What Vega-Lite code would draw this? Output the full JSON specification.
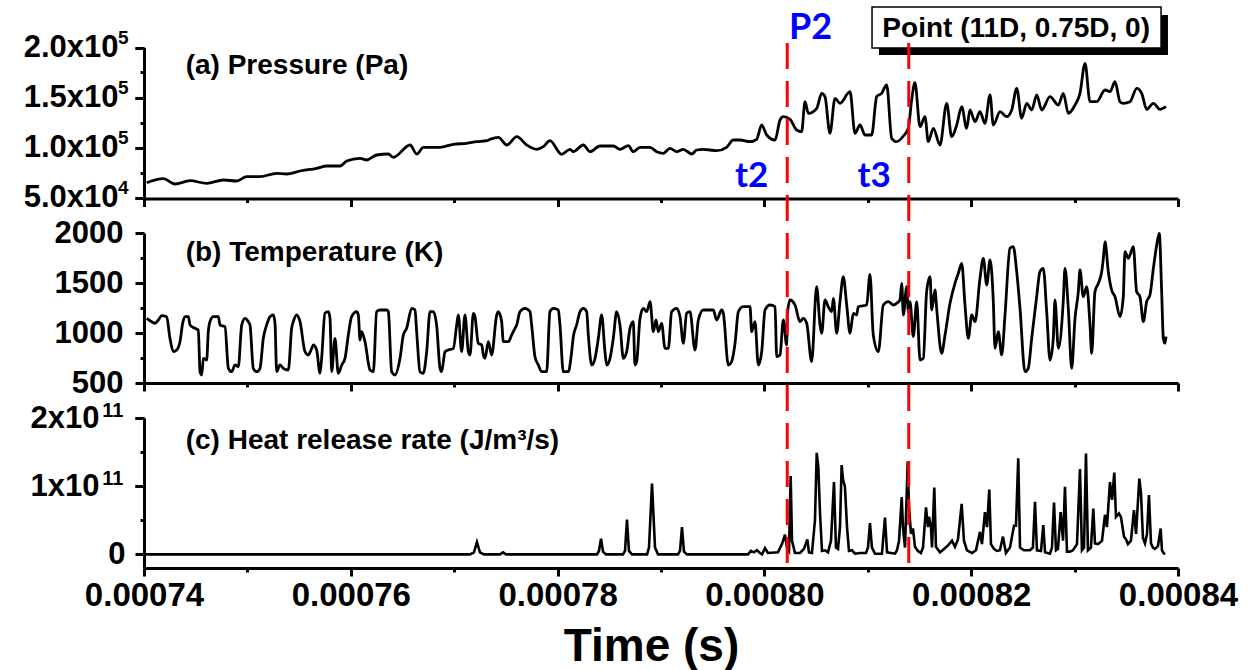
{
"$schema": "https://vega.github.io/schema/vega-lite/v6.json",
"width": 1034, "height": 531,
"autosize": "none",
"padding": {"left": 144, "top": 43, "right": 73, "bottom": 96},
"background": "white",
"config": {
  "view": {"stroke": null},
  "axis": {"grid": false, "domainColor": "black", "tickColor": "black", "labelColor": "black", "titleColor": "black",
    "labelFont": "Liberation Sans", "labelFontWeight": "bold", "titleFont": "Liberation Sans", "titleFontWeight": "bold",
    "domainWidth": 3, "tickWidth": 3, "labelFlush": false, "labelOverlap": false}
},
"datasets": {
"pressure": [
{"t":0.00074026,"p":64800},{"t":0.00074187,"p":68800},{"t":0.000743,"p":63500},{"t":0.00074445,"p":66800},{"t":0.00074606,"p":64200},{"t":0.00074767,"p":67500},{"t":0.00074896,"p":66500},{"t":0.00074993,"p":70800},{"t":0.00075122,"p":70800},{"t":0.00075283,"p":74200},{"t":0.0007538,"p":73500},{"t":0.00075509,"p":76500},{"t":0.0007567,"p":79200},{"t":0.00075767,"p":81500},{"t":0.00075896,"p":81500},{"t":0.0007596,"p":86500},{"t":0.00076089,"p":89200},{"t":0.00076153,"p":87500},{"t":0.0007625,"p":92500},{"t":0.00076363,"p":93500},{"t":0.00076412,"p":90200},{"t":0.00076573,"p":102500},{"t":0.00076638,"p":93500},{"t":0.00076702,"p":100200},{"t":0.00076863,"p":100200},{"t":0.00076992,"p":103200},{"t":0.00077121,"p":104200},{"t":0.00077218,"p":105800},{"t":0.00077315,"p":106800},{"t":0.00077347,"p":108200},{"t":0.00077427,"p":110200},{"t":0.00077509,"p":102500},{"t":0.00077605,"p":110800},{"t":0.00077701,"p":102500},{"t":0.00077798,"p":98200},{"t":0.00077862,"p":100800},{"t":0.00077926,"p":106800},{"t":0.00078039,"p":93200},{"t":0.0007812,"p":98200},{"t":0.00078152,"p":95800},{"t":0.00078249,"p":102500},{"t":0.00078313,"p":95800},{"t":0.0007841,"p":101500},{"t":0.00078539,"p":101500},{"t":0.00078603,"p":98200},{"t":0.00078684,"p":101800},{"t":0.00078732,"p":95800},{"t":0.00078797,"p":100200},
{"t":0.00078894,"p":100200},{"t":0.00078958,"p":95800},{"t":0.00079023,"p":94200},{"t":0.00079087,"p":99200},{"t":0.00079152,"p":95800},{"t":0.00079216,"p":98200},{"t":0.00079297,"p":93500},{"t":0.00079345,"p":97500},{"t":0.00079409,"p":98200},{"t":0.00079539,"p":96800},{"t":0.00079635,"p":100200},{"t":0.00079699,"p":107500},{"t":0.00079764,"p":107500},{"t":0.00079861,"p":105800},{"t":0.00079925,"p":108200},{"t":0.00079974,"p":122500},{"t":0.00080022,"p":112500},{"t":0.00080103,"p":107500},{"t":0.00080151,"p":127500},{"t":0.00080183,"p":130800},{"t":0.00080248,"p":128200},{"t":0.00080312,"p":117500},{"t":0.0008036,"p":115800},{"t":0.00080393,"p":145800},{"t":0.00080425,"p":134200},{"t":0.00080506,"p":139200},{"t":0.00080554,"p":154200},{"t":0.00080586,"p":150800},{"t":0.00080634,"p":114200},{"t":0.00080683,"p":149200},{"t":0.00080731,"p":144200},{"t":0.00080828,"p":155800},{"t":0.00080876,"p":114200},{"t":0.00080925,"p":122500},{"t":0.00080973,"p":112500},{"t":0.00081037,"p":112500},{"t":0.00081086,"p":150800},{"t":0.00081134,"p":154200},{"t":0.00081183,"p":162500},{"t":0.00081231,"p":109200},{"t":0.00081279,"p":105800},{"t":0.00081344,"p":111500},{"t":0.00081392,"p":119200},{"t":0.00081424,"p":147500},{"t":0.00081456,"p":164800},{"t":0.00081505,"p":120800},{"t":0.00081553,"p":130800},{"t":0.00081585,"p":105800},{"t":0.00081634,"p":119200},{"t":0.00081698,"p":102500},{"t":0.00081763,"p":144200},{"t":0.00081811,"p":110800},{"t":0.0008186,"p":122500},{"t":0.00081908,"p":140800},{"t":0.00081956,"p":119200},{"t":0.00081988,"p":137500},{"t":0.00082037,"p":125800},{"t":0.00082085,"p":135800},{"t":0.00082133,"p":124200},{"t":0.00082182,"p":152500},{"t":0.00082214,"p":122500},{"t":0.00082279,"p":135800},{"t":0.00082343,"p":130800},{"t":0.00082392,"p":137500},{"t":0.0008244,"p":159200},{"t":0.00082488,"p":129200},{"t":0.00082537,"p":144200},{"t":0.00082585,"p":137500},{"t":0.00082634,"p":152500},{"t":0.00082682,"p":137500},{"t":0.00082762,"p":150800},{"t":0.00082843,"p":142500},{"t":0.00082891,"p":154200},{"t":0.00082939,"p":134200},{"t":0.00083004,"p":142500},{"t":0.00083052,"p":154200},{"t":0.00083101,"p":184200},{"t":0.00083149,"p":145800},{"t":0.00083214,"p":145800},{"t":0.00083294,"p":157500},{"t":0.00083342,"p":155800},{"t":0.00083391,"p":165800},{"t":0.00083439,"p":145800},{"t":0.00083471,"p":144200},{"t":0.00083536,"p":145800},{"t":0.00083601,"p":159200},{"t":0.00083649,"p":154200},{"t":0.00083697,"p":138200},{"t":0.00083762,"p":144200},{"t":0.00083826,"p":138200},{"t":0.00083884,"p":140800}
],
"temperature": [
{"t":0.00074026,"k":1147},{"t":0.00074074,"k":1113},{"t":0.00074106,"k":1097},{"t":0.00074139,"k":1130},{"t":0.00074171,"k":1173},{"t":0.00074219,"k":1163},{"t":0.00074251,"k":947},{"t":0.00074284,"k":813},{"t":0.00074316,"k":830},{"t":0.00074348,"k":913},{"t":0.00074374,"k":1097},{"t":0.00074397,"k":1163},{"t":0.00074429,"k":1163},{"t":0.00074445,"k":1080},{"t":0.00074493,"k":1047},{"t":0.00074525,"k":1030},{"t":0.00074542,"k":613},{"t":0.00074558,"k":580},{"t":0.00074574,"k":747},{"t":0.00074606,"k":730},{"t":0.00074622,"k":1013},{"t":0.00074638,"k":1113},{"t":0.00074671,"k":1163},{"t":0.00074719,"k":1163},{"t":0.00074735,"k":1080},{"t":0.00074783,"k":1063},{"t":0.00074816,"k":647},{"t":0.00074848,"k":613},{"t":0.0007488,"k":680},{"t":0.00074912,"k":663},{"t":0.00074945,"k":1080},{"t":0.00074977,"k":1147},{"t":0.00075009,"k":1113},{"t":0.00075025,"k":1080},{"t":0.00075057,"k":647},{"t":0.0007509,"k":613},{"t":0.00075122,"k":647},{"t":0.00075154,"k":947},{"t":0.00075186,"k":1080},{"t":0.00075219,"k":1163},{"t":0.00075251,"k":1180},{"t":0.00075267,"k":1097},{"t":0.00075283,"k":613},{"t":0.00075315,"k":680},{"t":0.00075347,"k":647},{"t":0.00075396,"k":630},{"t":0.00075428,"k":1047},{"t":0.00075444,"k":1113},{"t":0.00075476,"k":1180},{"t":0.00075509,"k":1113},{"t":0.00075557,"k":813},{"t":0.00075589,"k":780},{"t":0.00075622,"k":847},{"t":0.00075638,"k":880},{"t":0.0007567,"k":830},{"t":0.00075702,"k":597},{"t":0.00075718,"k":747},{"t":0.0007575,"k":1197},{"t":0.00075783,"k":1213},{"t":0.00075799,"k":1147},{"t":0.00075815,"k":613},{"t":0.00075847,"k":947},{"t":0.00075879,"k":597},{"t":0.00075912,"k":680},{"t":0.00075944,"k":747},{"t":0.00075976,"k":980},{"t":0.00076008,"k":1163},{"t":0.00076057,"k":1213},{"t":0.00076073,"k":1180},{"t":0.00076089,"k":930},{"t":0.00076105,"k":1013},{"t":0.00076137,"k":913},{"t":0.00076186,"k":630},{"t":0.00076218,"k":613},{"t":0.0007625,"k":1213},{"t":0.00076282,"k":1230},{"t":0.00076347,"k":1230},{"t":0.00076363,"k":1213},{"t":0.00076395,"k":613},{"t":0.00076427,"k":580},{"t":0.00076476,"k":747},{"t":0.00076508,"k":980},{"t":0.0007654,"k":1047},{"t":0.00076589,"k":1247},{"t":0.00076621,"k":1230},{"t":0.00076637,"k":1013},{"t":0.00076669,"k":613},{"t":0.00076701,"k":597},{"t":0.00076734,"k":813},{"t":0.00076766,"k":1213},{"t":0.00076798,"k":1213},{"t":0.0007683,"k":1080},{"t":0.00076863,"k":647},{"t":0.00076879,"k":613},{"t":0.00076911,"k":813},{"t":0.00076943,"k":830},{"t":0.00076992,"k":847},{"t":0.00077024,"k":1080},{"t":0.0007704,"k":1180},{"t":0.00077072,"k":813},{"t":0.00077104,"k":1180},{"t":0.00077137,"k":813},{"t":0.00077153,"k":780},{"t":0.00077185,"k":1197},{"t":0.00077201,"k":1163},{"t":0.00077233,"k":897},{"t":0.00077266,"k":880},{"t":0.00077282,"k":780},{"t":0.00077298,"k":747},{"t":0.0007733,"k":913},{"t":0.00077362,"k":780},{"t":0.00077411,"k":1180},{"t":0.00077427,"k":1213},{"t":0.00077459,"k":1113},{"t":0.00077475,"k":913},{"t":0.00077524,"k":913},{"t":0.00077556,"k":980},{"t":0.00077588,"k":1047},{"t":0.00077604,"k":1080},{"t":0.00077636,"k":1213},{"t":0.00077685,"k":1247},{"t":0.00077733,"k":1213},{"t":0.00077749,"k":1080},{"t":0.00077781,"k":763},{"t":0.00077814,"k":680},{"t":0.00077846,"k":613},{"t":0.00077894,"k":613},{"t":0.00077926,"k":1213},{"t":0.00077959,"k":1247},{"t":0.00078007,"k":1230},{"t":0.00078023,"k":1080},{"t":0.00078055,"k":613},{"t":0.00078104,"k":613},{"t":0.00078136,"k":813},{"t":0.00078152,"k":963},{"t":0.00078184,"k":1080},{"t":0.00078217,"k":1213},{"t":0.00078249,"k":1247},{"t":0.00078281,"k":1213},{"t":0.00078297,"k":980},{"t":0.0007833,"k":680},{"t":0.00078362,"k":747},{"t":0.00078394,"k":947},{"t":0.00078426,"k":1180},{"t":0.00078458,"k":813},{"t":0.00078475,"k":680},{"t":0.00078507,"k":747},{"t":0.00078539,"k":947},{"t":0.00078571,"k":1213},{"t":0.00078603,"k":1080},{"t":0.00078636,"k":747},{"t":0.00078668,"k":813},{"t":0.000787,"k":1047},{"t":0.00078732,"k":1113},{"t":0.00078748,"k":680},{"t":0.00078765,"k":713},{"t":0.00078797,"k":1147},{"t":0.00078829,"k":1247},{"t":0.00078861,"k":1213},
{"t":0.00078894,"k":1313},{"t":0.00078926,"k":1013},{"t":0.00078952,"k":1130},{"t":0.00078974,"k":1013},{"t":0.00079006,"k":1097},{"t":0.00079039,"k":847},{"t":0.00079071,"k":847},{"t":0.00079103,"k":1213},{"t":0.00079152,"k":1247},{"t":0.00079184,"k":1163},{"t":0.00079216,"k":897},{"t":0.00079248,"k":1197},{"t":0.0007928,"k":1213},{"t":0.00079329,"k":830},{"t":0.00079361,"k":1130},{"t":0.00079409,"k":1230},{"t":0.00079506,"k":1230},{"t":0.00079538,"k":1130},{"t":0.00079587,"k":1230},{"t":0.00079603,"k":1197},{"t":0.00079651,"k":680},{"t":0.00079683,"k":713},{"t":0.00079716,"k":897},{"t":0.00079748,"k":1213},{"t":0.00079796,"k":1263},{"t":0.00079861,"k":1263},{"t":0.00079877,"k":1013},{"t":0.00079909,"k":1113},{"t":0.00079941,"k":680},{"t":0.00079974,"k":813},{"t":0.00080006,"k":1230},{"t":0.00080054,"k":1280},{"t":0.00080103,"k":1263},{"t":0.00080119,"k":763},{"t":0.00080151,"k":780},{"t":0.00080183,"k":1130},{"t":0.00080215,"k":880},{"t":0.00080222,"k":1180},{"t":0.00080248,"k":1330},{"t":0.00080296,"k":1280},{"t":0.00080344,"k":1113},{"t":0.00080376,"k":1147},{"t":0.00080409,"k":1097},{"t":0.00080457,"k":713},{"t":0.00080505,"k":1463},{"t":0.00080538,"k":1080},{"t":0.00080554,"k":997},{"t":0.00080586,"k":1330},{"t":0.00080618,"k":1263},{"t":0.00080651,"k":1213},{"t":0.00080667,"k":1347},{"t":0.00080699,"k":997},{"t":0.00080731,"k":1313},{"t":0.00080763,"k":1563},{"t":0.00080796,"k":1280},{"t":0.00080828,"k":997},{"t":0.0008086,"k":1197},{"t":0.00080892,"k":1180},{"t":0.00080908,"k":1263},{"t":0.00080989,"k":1280},{"t":0.00081021,"k":1587},{"t":0.00081053,"k":980},{"t":0.00081102,"k":813},{"t":0.0008115,"k":1280},{"t":0.00081198,"k":1313},{"t":0.00081247,"k":1280},{"t":0.00081279,"k":1297},{"t":0.00081311,"k":1330},{"t":0.00081328,"k":1497},{"t":0.00081344,"k":1180},{"t":0.00081376,"k":1463},{"t":0.00081392,"k":1213},{"t":0.00081408,"k":1313},{"t":0.0008144,"k":963},{"t":0.00081473,"k":1313},{"t":0.00081505,"k":730},{"t":0.00081537,"k":747},{"t":0.00081569,"k":1413},{"t":0.00081602,"k":1563},{"t":0.00081618,"k":1230},{"t":0.0008165,"k":1430},{"t":0.00081666,"k":1247},{"t":0.00081714,"k":797},{"t":0.00081747,"k":980},{"t":0.00081795,"k":1297},{"t":0.00081843,"k":1497},{"t":0.00081876,"k":1597},{"t":0.00081908,"k":1697},{"t":0.0008194,"k":1280},{"t":0.00081972,"k":947},{"t":0.00082005,"k":1180},{"t":0.00082037,"k":1113},{"t":0.00082085,"k":1547},{"t":0.00082117,"k":1747},{"t":0.0008215,"k":1480},{"t":0.00082182,"k":1730},{"t":0.00082214,"k":1313},{"t":0.0008223,"k":847},{"t":0.00082262,"k":1013},{"t":0.00082295,"k":780},{"t":0.00082327,"k":1180},{"t":0.00082375,"k":1847},{"t":0.00082407,"k":1863},{"t":0.0008244,"k":1613},{"t":0.00082472,"k":1247},{"t":0.0008252,"k":613},{"t":0.00082552,"k":647},{"t":0.00082585,"k":947},{"t":0.00082633,"k":1363},{"t":0.00082665,"k":1613},{"t":0.00082697,"k":1647},{"t":0.0008273,"k":1213},{"t":0.00082762,"k":730},{"t":0.00082794,"k":947},{"t":0.0008281,"k":1330},{"t":0.00082843,"k":847},{"t":0.00082891,"k":1330},{"t":0.00082907,"k":1647},{"t":0.00082939,"k":1247},{"t":0.00082972,"k":647},{"t":0.00083004,"k":1147},{"t":0.00083036,"k":1413},{"t":0.00083052,"k":1630},{"t":0.00083084,"k":1363},{"t":0.00083117,"k":1463},{"t":0.00083149,"k":1080},{"t":0.00083165,"k":797},{"t":0.00083197,"k":1413},{"t":0.0008323,"k":1497},{"t":0.00083262,"k":1613},{"t":0.00083278,"k":1747},{"t":0.00083294,"k":1913},{"t":0.00083326,"k":1613},{"t":0.00083358,"k":1430},{"t":0.00083391,"k":1363},{"t":0.00083439,"k":1163},{"t":0.00083471,"k":1363},{"t":0.00083487,"k":1813},{"t":0.0008352,"k":1747},{"t":0.00083536,"k":1780},{"t":0.00083568,"k":1863},{"t":0.000836,"k":1413},{"t":0.00083632,"k":1363},{"t":0.00083665,"k":1113},{"t":0.00083697,"k":1313},{"t":0.00083729,"k":1380},{"t":0.00083762,"k":1647},{"t":0.00083794,"k":1880},{"t":0.00083819,"k":1997},{"t":0.00083842,"k":1413},{"t":0.00083858,"k":947},{"t":0.00083874,"k":897},{"t":0.00083884,"k":963}
],
"hrr": [
{"t":0.00074005,"q":0},{"t":0.00077153,"q":0},{"t":0.00077191,"q":3e9},{"t":0.0007722,"q":1.8e10},{"t":0.00077249,"q":3e9},{"t":0.00077288,"q":0},{"t":0.00077443,"q":0},{"t":0.00077472,"q":3e9},{"t":0.00077501,"q":0},{"t":0.00078381,"q":0},{"t":0.000784,"q":5e9},{"t":0.0007842,"q":2.3e10},{"t":0.00078439,"q":4e9},{"t":0.00078468,"q":0},{"t":0.00078632,"q":0},{"t":0.00078652,"q":5e9},{"t":0.00078671,"q":5.1e10},{"t":0.0007869,"q":5e9},{"t":0.00078719,"q":0},{"t":0.00078865,"q":0},{"t":0.00078884,"q":1e10},{"t":0.00078913,"q":1.04e11},{"t":0.00078942,"q":1e10},{"t":0.00078971,"q":0},{"t":0.00079164,"q":0},{"t":0.00079184,"q":5e9},{"t":0.00079203,"q":4e10},{"t":0.00079222,"q":4e9},{"t":0.00079251,"q":0},{"t":0.00079841,"q":0},{"t":0.0007987,"q":5e9},{"t":0.00079899,"q":3e9},{"t":0.00079928,"q":6e9},{"t":0.00079957,"q":2e9},{"t":0.00079977,"q":0},{"t":0.00080006,"q":9e9},{"t":0.00080035,"q":2e9},{"t":0.00080131,"q":3e9},{"t":0.0008017,"q":1.5e10},{"t":0.00080199,"q":2.9e10},{"t":0.00080218,"q":1e10},{"t":0.00080238,"q":5e9},{"t":0.00080254,"q":1.15e11},{"t":0.00080267,"q":2e10},{"t":0.00080296,"q":2e9},{"t":0.00080344,"q":2e9},{"t":0.00080383,"q":8e9},{"t":0.00080415,"q":2.2e10},{"t":0.00080431,"q":3e9},{"t":0.0008046,"q":2e9},{"t":0.00080489,"q":5e10},{"t":0.00080506,"q":1.49e11},{"t":0.00080521,"q":1.29e11},{"t":0.00080538,"q":6e10},{"t":0.00080557,"q":5e9},{"t":0.00080586,"q":6e9},{"t":0.00080615,"q":3e9},{"t":0.00080644,"q":2e10},{"t":0.00080673,"q":1.06e11},{"t":0.00080692,"q":1e10},{"t":0.00080712,"q":8e9},{"t":0.00080731,"q":4e10},{"t":0.00080747,"q":1.31e11},{"t":0.0008076,"q":1.1e11},{"t":0.00080779,"q":9.9e10},{"t":0.00080799,"q":4e10},{"t":0.00080818,"q":5e9},{"t":0.00080847,"q":6e9},{"t":0.00080876,"q":1e9},{"t":0.00080924,"q":2e9},{"t":0.00080982,"q":2e9},{"t":0.00081002,"q":1e10},{"t":0.00081021,"q":4.6e10},{"t":0.0008104,"q":1e10},{"t":0.0008107,"q":1e9},{"t":0.00081137,"q":1e9},{"t":0.00081166,"q":5.4e10},{"t":0.00081186,"q":3e9},{"t":0.00081263,"q":1e9},{"t":0.00081282,"q":6e9},{"t":0.00081302,"q":2e10},{"t":0.00081328,"q":8.4e10},{"t":0.0008134,"q":4e10},{"t":0.0008136,"q":1e10},{"t":0.00081386,"q":1.36e11},{"t":0.00081398,"q":7e10},{"t":0.00081418,"q":3e10},{"t":0.00081437,"q":3.8e10},{"t":0.00081456,"q":1.1e10},{"t":0.00081485,"q":5e9},{"t":0.00081514,"q":2e9},{"t":0.00081534,"q":1e10},{"t":0.00081563,"q":6.9e10},{"t":0.00081582,"q":4e10},{"t":0.00081592,"q":5.5e10},{"t":0.00081611,"q":4e10},{"t":0.00081621,"q":1e10},{"t":0.00081643,"q":9.8e10},{"t":0.00081659,"q":1.1e10},{"t":0.00081698,"q":3e9},{"t":0.00081737,"q":8e9},{"t":0.00081775,"q":1.3e10},{"t":0.00081814,"q":2e10},{"t":0.00081843,"q":1.1e10},{"t":0.00081872,"q":2.2e10},{"t":0.00081908,"q":7.4e10},{"t":0.0008193,"q":2e10},{"t":0.00081959,"q":6e9},{"t":0.00082008,"q":2e9},{"t":0.00082046,"q":6e9},{"t":0.00082085,"q":3.3e10},{"t":0.00082104,"q":1.5e10},{"t":0.00082133,"q":6.2e10},{"t":0.00082153,"q":4e10},{"t":0.00082175,"q":9.5e10},{"t":0.00082191,"q":1.5e10},{"t":0.0008222,"q":8e9},{"t":0.00082249,"q":5e9},{"t":0.00082278,"q":6e9},{"t":0.00082307,"q":2.6e10},{"t":0.00082336,"q":2e9},{"t":0.00082375,"q":1e10},{"t":0.00082414,"q":4.2e10},{"t":0.00082433,"q":4.2e10},{"t":0.00082455,"q":1.41e11},{"t":0.00082472,"q":1e10},{"t":0.0008251,"q":6e9},{"t":0.00082568,"q":6e9},{"t":0.00082597,"q":1e10},{"t":0.00082617,"q":7.7e10},{"t":0.00082636,"q":6e9},{"t":0.00082675,"q":5e9},{"t":0.00082697,"q":4.3e10},{"t":0.00082714,"q":3e9},{"t":0.00082762,"q":1e9},{"t":0.00082781,"q":1e10},{"t":0.00082801,"q":7.6e10},{"t":0.0008282,"q":6e9},{"t":0.00082839,"q":8e9},{"t":0.00082865,"q":6.2e10},{"t":0.00082888,"q":2e10},{"t":0.00082907,"q":9.9e10},{"t":0.00082926,"q":4e9},{"t":0.00082955,"q":4e9},{"t":0.00082984,"q":6e9},{"t":0.00083023,"q":1.5e10},{"t":0.00083052,"q":1.25e11},{"t":0.00083071,"q":6e9},{"t":0.00083091,"q":1e10},{"t":0.0008311,"q":1.48e11},{"t":0.00083129,"q":6e9},{"t":0.00083158,"q":1e10},{"t":0.00083181,"q":6.7e10},{"t":0.00083197,"q":1.6e10},{"t":0.00083226,"q":1.5e10},{"t":0.00083265,"q":2e10},{"t":0.00083294,"q":5.8e10},{"t":0.00083313,"q":4e10},{"t":0.00083342,"q":1.06e11},{"t":0.00083362,"q":8e10},{"t":0.00083384,"q":1.2e11},{"t":0.000834,"q":5.5e10},{"t":0.00083429,"q":6e10},{"t":0.00083448,"q":5.5e10},{"t":0.00083478,"q":2.6e10},{"t":0.00083497,"q":2.2e10},{"t":0.00083516,"q":1.5e10},{"t":0.00083545,"q":2e10},{"t":0.00083574,"q":6.5e10},{"t":0.00083594,"q":3e10},{"t":0.00083626,"q":1.11e11},{"t":0.00083642,"q":9e10},{"t":0.00083661,"q":2.4e10},{"t":0.00083681,"q":1.6e10},{"t":0.000837,"q":3e10},{"t":0.00083719,"q":8.7e10},{"t":0.00083739,"q":1.6e10},{"t":0.00083758,"q":1e10},{"t":0.00083777,"q":8e9},{"t":0.00083806,"q":1.2e10},{"t":0.00083832,"q":3.8e10},{"t":0.00083845,"q":6e9},{"t":0.0008386,"q":2e9},{"t":0.00083874,"q":0}
],
"markers": [{"t": 0.00080221}, {"t": 0.00081396}]
},
"resolve": {"scale": {"x": "shared", "y": "independent"}, "axis": {"x": "independent", "y": "independent"}},
"layer": [
{
  "layer": [
    {"data": {"values": [{}]}, "mark": {"type": "rect", "color": "black"},
     "encoding": {"x": {"datum": 0.00081108, "type": "quantitative"}, "x2": {"datum": 0.00083903}, "y": {"datum": 232500, "type": "quantitative"}, "y2": {"datum": 192500}}},
    {"data": {"values": [{}]}, "mark": {"type": "rect", "fill": "white", "stroke": "black", "strokeWidth": 1.5},
     "encoding": {"x": {"datum": 0.00081041, "type": "quantitative"}, "x2": {"datum": 0.00083836}, "y": {"datum": 240500, "type": "quantitative"}, "y2": {"datum": 199500}}},
    {"data": {"values": [{"label": "Point (11D, 0.75D, 0)"}]}, "mark": {"type": "text", "font": "Liberation Sans", "fontWeight": "bold", "fontSize": 28, "align": "center", "baseline": "alphabetic", "color": "black"},
     "encoding": {"x": {"datum": 0.00082435, "type": "quantitative"}, "y": {"datum": 210200, "type": "quantitative"}, "text": {"field": "label"}}},
    {"data": {"name": "pressure"}, "mark": {"type": "line", "color": "black", "strokeWidth": 2.8, "interpolate": "monotone"},
     "encoding": {
       "x": {"field": "t", "type": "quantitative", "scale": {"domain": [0.00074, 0.00084], "nice": false, "zero": false},
             "axis": {"orient": "bottom", "offset": -375.5, "values": [0.00074, 0.00076, 0.00078, 0.0008, 0.00082, 0.00084], "labels": false, "title": null, "tickSize": 8}},
       "y": {"field": "p", "type": "quantitative", "scale": {"domain": [50000, 200000], "range": [154.5, 4.5], "nice": false, "zero": false},
             "axis": {"orient": "left", "values": [50000, 100000, 150000, 200000], "title": null, "tickSize": 9, "labelPadding": 17, "labelFontSize": 31,
                      "labelExpr": "datum.value == 50000 ? '5.0x10' : format(datum.value / 100000, '.1f') + 'x10'"}}
     }},
    {"data": {"values": [{"label": "(a) Pressure (Pa)"}]}, "mark": {"type": "text", "font": "Liberation Sans", "fontWeight": "bold", "fontSize": 28, "align": "left", "baseline": "alphabetic", "color": "black"},
     "encoding": {"x": {"datum": 0.00074403, "type": "quantitative"}, "y": {"datum": 173500, "type": "quantitative"}, "text": {"field": "label"}}},
    {"data": {"values": [{"label": "P2"}]}, "mark": {"type": "text", "font": "Lato", "fontWeight": "bold", "fontSize": 36, "align": "center", "baseline": "alphabetic", "color": "#0000ff"},
     "encoding": {"x": {"datum": 0.00080447, "type": "quantitative"}, "y": {"datum": 208200, "type": "quantitative"}, "text": {"field": "label"}}},
    {"data": {"values": [{"label": "t2"}]}, "mark": {"type": "text", "font": "Lato", "fontWeight": "bold", "fontSize": 35, "align": "center", "baseline": "alphabetic", "color": "#0000ff"},
     "encoding": {"x": {"datum": 0.00079877, "type": "quantitative"}, "y": {"datum": 60800, "type": "quantitative"}, "text": {"field": "label"}}},
    {"data": {"values": [{"label": "t3"}]}, "mark": {"type": "text", "font": "Lato", "fontWeight": "bold", "fontSize": 35, "align": "center", "baseline": "alphabetic", "color": "#0000ff"},
     "encoding": {"x": {"datum": 0.00081062, "type": "quantitative"}, "y": {"datum": 60800, "type": "quantitative"}, "text": {"field": "label"}}}
  ]
},
{"data": {"values": [{}]}, "mark": {"type": "point", "opacity": 0},
 "encoding": {
   "x": {"datum": 0.00075, "type": "quantitative", "scale": {"domain": [0.00074, 0.00084], "nice": false, "zero": false},
         "axis": {"orient": "bottom", "offset": -375.5, "values": [0.00075, 0.00077, 0.00079, 0.00081, 0.00083], "labels": false, "domain": false, "title": null, "tickSize": 4}},
   "y": {"datum": 75000, "type": "quantitative", "scale": {"domain": [50000, 200000], "range": [154.5, 4.5], "nice": false, "zero": false},
         "axis": {"orient": "left", "values": [75000, 125000, 175000], "labels": false, "domain": false, "title": null, "tickSize": 4}}
 }},
{"data": {"values": [{}]}, "mark": {"type": "point", "opacity": 0},
 "encoding": {
   "y": {"datum": 75000, "type": "quantitative", "scale": {"domain": [50000, 200000], "range": [154.5, 4.5], "nice": false, "zero": false},
         "axis": {"orient": "left", "values": [50000, 100000, 150000, 200000], "domain": false, "title": null, "tickSize": 9, "labelPadding": 7, "labelFontSize": 19, "labelOffset": -10,
                  "labelExpr": "datum.value == 50000 ? '4' : '5'"}}
 }},
{
  "layer": [
    {"data": {"name": "temperature"}, "mark": {"type": "line", "color": "black", "strokeWidth": 2.8, "interpolate": "monotone"},
     "encoding": {
       "x": {"field": "t", "type": "quantitative", "scale": {"domain": [0.00074, 0.00084], "nice": false, "zero": false},
             "axis": {"orient": "bottom", "offset": -191, "values": [0.00074, 0.00076, 0.00078, 0.0008, 0.00082, 0.00084], "labels": false, "title": null, "tickSize": 8}},
       "y": {"field": "k", "type": "quantitative", "scale": {"domain": [500, 2000], "range": [340, 190], "nice": false, "zero": false},
             "axis": {"orient": "left", "values": [500, 1000, 1500, 2000], "title": null, "tickSize": 9, "labelPadding": 12, "labelFontSize": 31,
                      "labelExpr": "format(datum.value, 'd')"}}
     }},
    {"data": {"values": [{"label": "(b) Temperature (K)"}]}, "mark": {"type": "text", "font": "Liberation Sans", "fontWeight": "bold", "fontSize": 28, "align": "left", "baseline": "alphabetic", "color": "black"},
     "encoding": {"x": {"datum": 0.00074403, "type": "quantitative"}, "y": {"datum": 1723, "type": "quantitative"}, "text": {"field": "label"}}}
  ]
},
{"data": {"values": [{}]}, "mark": {"type": "point", "opacity": 0},
 "encoding": {
   "x": {"datum": 0.00075, "type": "quantitative", "scale": {"domain": [0.00074, 0.00084], "nice": false, "zero": false},
         "axis": {"orient": "bottom", "offset": -191, "values": [0.00075, 0.00077, 0.00079, 0.00081, 0.00083], "labels": false, "domain": false, "title": null, "tickSize": 4}},
   "y": {"datum": 750, "type": "quantitative", "scale": {"domain": [500, 2000], "range": [340, 190], "nice": false, "zero": false},
         "axis": {"orient": "left", "values": [750, 1250, 1750], "labels": false, "domain": false, "title": null, "tickSize": 4}}
 }},
{
  "layer": [
    {"data": {"name": "hrr"}, "mark": {"type": "line", "color": "black", "strokeWidth": 2.6},
     "encoding": {
       "x": {"field": "t", "type": "quantitative", "scale": {"domain": [0.00074, 0.00084], "nice": false, "zero": false},
             "axis": {"orient": "bottom", "offset": -6, "values": [0.00074, 0.00076, 0.00078, 0.0008, 0.00082, 0.00084], "tickSize": 8,
                      "labelExpr": "format(datum.value, '.5f')", "labelFontSize": 33, "labelPadding": 3,
                      "title": "Time (s)", "titleFontSize": 46, "titlePadding": 12, "titleX": 507}},
       "y": {"field": "q", "type": "quantitative", "scale": {"domain": [-20000000000, 200000000000], "range": [525, 375], "nice": false, "zero": false},
             "axis": {"orient": "left", "values": [100000000000, 200000000000], "title": null, "tickSize": 9, "labelPadding": 36, "labelFontSize": 31,
                      "labelExpr": "format(datum.value / 1e11, 'd') + 'x10'"}}
     }},
    {"data": {"values": [{"label": "(c) Heat release rate (J/m³/s)"}]}, "mark": {"type": "text", "font": "Liberation Sans", "fontWeight": "bold", "fontSize": 28, "align": "left", "baseline": "alphabetic", "color": "black"},
     "encoding": {"x": {"datum": 0.00074403, "type": "quantitative"}, "y": {"datum": 154900000000, "type": "quantitative"}, "text": {"field": "label"}}}
  ]
},
{"data": {"values": [{}]}, "mark": {"type": "point", "opacity": 0},
 "encoding": {
   "x": {"datum": 0.00075, "type": "quantitative", "scale": {"domain": [0.00074, 0.00084], "nice": false, "zero": false},
         "axis": {"orient": "bottom", "offset": -6, "values": [0.00075, 0.00077, 0.00079, 0.00081, 0.00083], "labels": false, "domain": false, "title": null, "tickSize": 4}},
   "y": {"datum": 50000000000, "type": "quantitative", "scale": {"domain": [-20000000000, 200000000000], "range": [525, 375], "nice": false, "zero": false},
         "axis": {"orient": "left", "values": [50000000000, 150000000000], "labels": false, "domain": false, "title": null, "tickSize": 4}}
 }},
{"data": {"values": [{}]}, "mark": {"type": "point", "opacity": 0},
 "encoding": {
   "y": {"datum": 0, "type": "quantitative", "scale": {"domain": [-20000000000, 200000000000], "range": [525, 375], "nice": false, "zero": false},
         "axis": {"orient": "left", "values": [0], "domain": false, "title": null, "tickSize": 9, "labelPadding": 10, "labelFontSize": 31}}
 }},
{"data": {"values": [{}]}, "mark": {"type": "point", "opacity": 0},
 "encoding": {
   "y": {"datum": 100000000000, "type": "quantitative", "scale": {"domain": [-20000000000, 200000000000], "range": [525, 375], "nice": false, "zero": false},
         "axis": {"orient": "left", "values": [100000000000, 200000000000], "domain": false, "title": null, "tickSize": 9, "labelPadding": 12, "labelFontSize": 20, "labelOffset": -8,
                  "labelExpr": "'11'"}}
 }},
{"data": {"name": "markers"}, "mark": {"type": "rule", "color": "#ff0000", "strokeWidth": 3, "strokeDash": [26, 12]},
 "encoding": {"x": {"field": "t", "type": "quantitative", "scale": {"domain": [0.00074, 0.00084], "nice": false, "zero": false}, "axis": null}}}
]
}
